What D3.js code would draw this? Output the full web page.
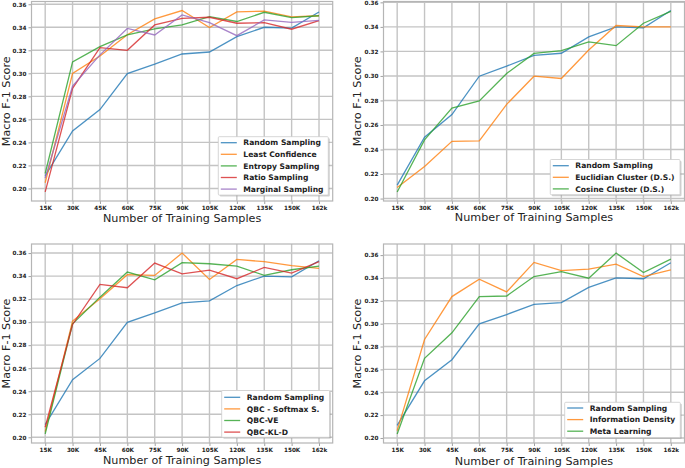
<!DOCTYPE html>
<html>
<head>
<meta charset="utf-8">
<script src="https://cdn.jsdelivr.net/npm/d3@7"></script>
<style>
html,body{margin:0;padding:0;background:#fff;}
svg{display:block;font-family:"DejaVu Sans",sans-serif;}
</style>
</head>
<body>
<svg id="chart" width="685" height="468"></svg>
<script>
// ---------- data ----------
const xLabels = ["15K","30K","45K","60K","75K","90K","105K","120K","135K","150K","162k"];
const yTicks = [0.20,0.22,0.24,0.26,0.28,0.30,0.32,0.34,0.36];

const randomSampling     = [0.211,0.250,0.2685,0.2998,0.308,0.3168,0.3185,0.3318,0.3400,0.3393,0.3533];
const leastConfidence    = [0.205,0.300,0.3150,0.3335,0.3472,0.3545,0.3397,0.3533,0.3540,0.3490,0.3500];
const entropySampling    = [0.213,0.310,0.3232,0.3333,0.3386,0.3420,0.3493,0.3450,0.3530,0.3484,0.3500];
const ratioSampling      = [0.197,0.287,0.3223,0.3200,0.3420,0.3478,0.3487,0.3435,0.3440,0.3383,0.3458];
const marginalSampling   = [0.209,0.289,0.3160,0.3390,0.3333,0.3507,0.3440,0.3327,0.3464,0.3443,0.3460];

const euclidianCluster   = [0.209,0.2262,0.2467,0.2470,0.2768,0.2998,0.2979,0.3212,0.3411,0.3400,0.3400];
const cosineCluster      = [0.2054,0.2478,0.2738,0.2796,0.3020,0.3184,0.3206,0.3277,0.3247,0.3430,0.3526];

const qbcSoftmax         = [0.2050,0.3009,0.3203,0.3412,0.3406,0.3600,0.3371,0.3545,0.3525,0.3490,0.3467];
const qbcVE              = [0.2029,0.2986,0.3217,0.3435,0.3368,0.3516,0.3507,0.3487,0.3406,0.3455,0.3487];
const qbcKLD             = [0.2087,0.2980,0.3328,0.3299,0.3513,0.3420,0.3452,0.3377,0.3475,0.3426,0.3525];

const informationDensity = [0.2064,0.2862,0.3237,0.3389,0.3278,0.3536,0.3465,0.3477,0.3521,0.3412,0.3471];
const metaLearning       = [0.2035,0.2697,0.2920,0.3237,0.3242,0.3412,0.3456,0.3398,0.3618,0.3448,0.3565];

const seriesNames1 = ["Random Sampling","Least Confidence","Entropy Sampling","Ratio Sampling","Marginal Sampling"];
const seriesNames2 = ["Random Sampling","Euclidian Cluster (D.S.)","Cosine Cluster (D.S.)"];
const seriesNames3 = ["Random Sampling","QBC - Softmax S.","QBC-VE","QBC-KL-D"];
const seriesNames4 = ["Random Sampling","Information Density","Meta Learning"];

const xTitle = "Number of Training Samples";
const yTitle = "Macro F-1 Score";

// ---------- styling / layout ----------
const colors = ["#1f77b4","#ff7f0e","#2ca02c","#d62728","#9467bd"];

const panels = [
  {names: seriesNames1, data: [randomSampling,leastConfidence,entropySampling,ratioSampling,marginalSampling],
   box:{l:31.5,r:332.7,t:1.5,b:201}, ylabX:6.5, xlabY:218, legend:{l:218.3,t:136.7,r:328.3,row0:142.7}},
  {names: seriesNames2, data: [randomSampling,euclidianCluster,cosineCluster],
   box:{l:383.5,r:684.5,t:1.5,b:201}, ylabX:357.5, xlabY:217.5, legend:{l:550.3,t:159.5,r:680,row0:165.7}},
  {names: seriesNames3, data: [randomSampling,qbcSoftmax,qbcVE,qbcKLD],
   box:{l:31.5,r:332.7,t:244,b:443}, ylabX:6.5, xlabY:460.5, legend:{l:221.7,t:390.5,r:329.5,row0:397.3}},
  {names: seriesNames4, data: [randomSampling,informationDensity,metaLearning],
   box:{l:383.5,r:684.5,t:244,b:443}, ylabX:357.5, xlabY:461.5, legend:{l:564.7,t:402.3,r:680.3,row0:408}}
];

const svg = d3.select("#chart");

panels.forEach(p => {
  const g = svg.append("g");
  const b = p.box;
  const n = xLabels.length;
  const x = d3.scaleLinear().domain([-0.5, n - 1 + 0.5]).range([b.l, b.r]);
  const all = p.data.flat();
  const [mn, mx] = d3.extent(all);
  const pad = (mx - mn) * 0.05;
  const y = d3.scaleLinear().domain([mn - pad, mx + pad]).range([b.b, b.t]);

  // grid
  g.append("g").selectAll("line.v").data(d3.range(n)).join("line")
    .attr("x1", i => x(i)).attr("x2", i => x(i)).attr("y1", b.t).attr("y2", b.b)
    .attr("stroke", "#c4c4c4").attr("stroke-width", 1.4);
  g.append("g").selectAll("line.h").data(yTicks).join("line")
    .attr("x1", b.l).attr("x2", b.r).attr("y1", d => y(d)).attr("y2", d => y(d))
    .attr("stroke", "#c4c4c4").attr("stroke-width", 1.4);

  // axes
  const xAxis = d3.axisBottom(x).tickValues(d3.range(n)).tickFormat(i => xLabels[i]).tickSize(3).tickPadding(1.5);
  const gx = g.append("g").attr("transform", `translate(0,${b.b})`).call(xAxis);
  const yAxis = d3.axisLeft(y).tickValues(yTicks).tickFormat(d3.format(".2f")).tickSize(3).tickPadding(2);
  const gy = g.append("g").attr("transform", `translate(${b.l},0)`).call(yAxis);
  [gx, gy].forEach(a => {
    a.select(".domain").remove();
    a.selectAll(".tick line").attr("stroke", "#888").attr("stroke-width", 0.8);
    a.selectAll(".tick text").attr("font-family", "DejaVu Sans").attr("font-weight", "bold")
      .attr("font-size", 5.7).attr("fill", "#222");
  });

  // frame
  g.append("rect").attr("x", b.l).attr("y", b.t).attr("width", b.r - b.l).attr("height", b.b - b.t)
    .attr("fill", "none").attr("stroke", "#b5b5b5").attr("stroke-width", 1.2);

  // lines
  const line = d3.line().x((d, i) => x(i)).y(d => y(d));
  p.data.forEach((s, k) => {
    g.append("path").datum(s).attr("d", line).attr("fill", "none")
      .attr("stroke", colors[k]).attr("stroke-width", 1.3).attr("stroke-opacity", 0.8);
  });

  // axis titles
  g.append("text").attr("x", (b.l + b.r) / 2).attr("y", p.xlabY).attr("dy", "0.35em")
    .attr("text-anchor", "middle").attr("font-size", 11.2).attr("fill", "#222").text(xTitle);
  g.append("text").attr("transform", `translate(${p.ylabX},${(b.t + b.b) / 2}) rotate(-90)`)
    .attr("dy", "0.35em").attr("text-anchor", "middle").attr("font-size", 11.2).attr("fill", "#222").text(yTitle);

  // legend
  const L = p.legend;
  const rowH = 11.6;
  const lh = (p.names.length - 1) * rowH + 12;
  g.append("rect").attr("x", L.l + 1.5).attr("y", L.t + 1.5).attr("width", L.r - L.l).attr("height", lh)
    .attr("fill", "#999").attr("opacity", 0.45).attr("rx", 1);
  g.append("rect").attr("x", L.l).attr("y", L.t).attr("width", L.r - L.l).attr("height", lh)
    .attr("fill", "#fff").attr("stroke", "#ccc").attr("stroke-width", 0.8).attr("rx", 1);
  p.names.forEach((nm, k) => {
    const cy = L.row0 + k * rowH;
    g.append("line").attr("x1", L.l + 2.5).attr("x2", L.l + 18.5).attr("y1", cy).attr("y2", cy)
      .attr("stroke", colors[k]).attr("stroke-width", 1.3).attr("stroke-opacity", 0.8);
    g.append("text").attr("x", L.l + 25).attr("y", cy).attr("dy", "0.35em")
      .attr("font-size", 7.6).attr("font-weight", "bold").attr("fill", "#222").text(nm);
  });
});
</script>
</body>
</html>
